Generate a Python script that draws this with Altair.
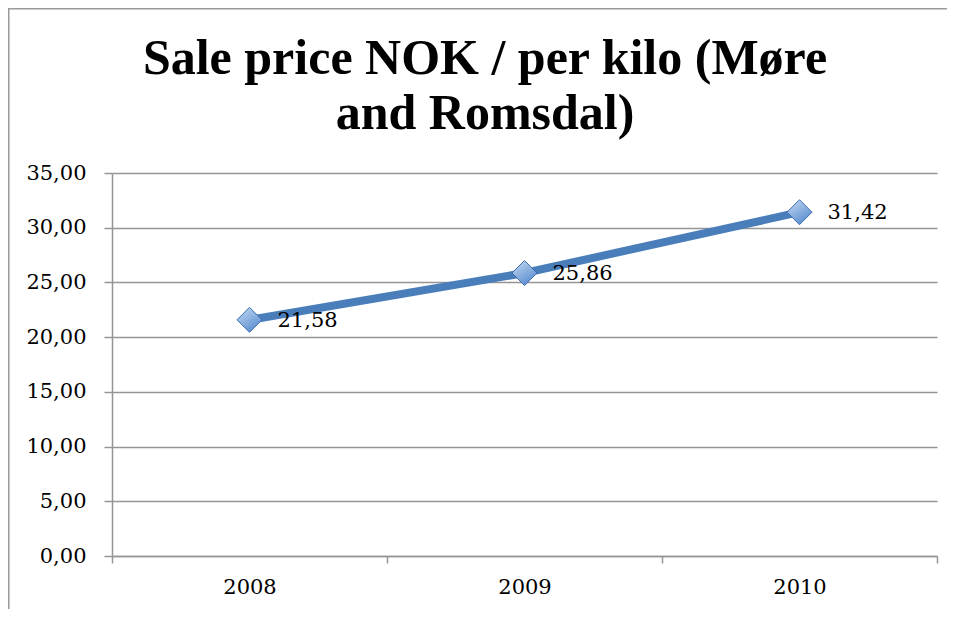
import altair as alt
import pandas as pd

years = ["2008", "2009", "2010"]
prices = [21.58, 25.86, 31.42]
y_ticks = [0, 5, 10, 15, 20, 25, 30, 35]
title_lines = ["Sale price NOK / per kilo (Møre", "and Romsdal)"]

df = pd.DataFrame({"year": years, "price": prices})

LINE_BLUE = "#4a7ebb"
GRID = "#959595"
LABEL_FONT = "DejaVu Serif"

x_enc = alt.X(
    "year:N",
    scale=alt.Scale(type="band", paddingInner=0, paddingOuter=0),
    bandPosition=0.5,
    axis=alt.Axis(
        title=None, tickBand="extent", grid=False, tickSize=7, tickColor=GRID,
        tickWidth=1.5, domainWidth=1.5,
        domainColor=GRID, labelFont=LABEL_FONT, labelFontSize=21, labelColor="black",
        labelPadding=13, labelAngle=0,
    ),
)
y_enc = alt.Y(
    "price:Q",
    scale=alt.Scale(domain=[0, 35], nice=False),
    axis=alt.Axis(
        title=None, values=y_ticks, grid=True, gridColor=GRID, gridWidth=1.5,
        tickColor=GRID, tickWidth=1.5, domainWidth=1.5,
        tickSize=8, domainColor=GRID, labelFont=LABEL_FONT, labelFontSize=21,
        labelColor="black", labelPadding=18,
        labelExpr="replace(format(datum.value, '.2f'), '.', ',')",
    ),
)

base = alt.Chart(df).encode(x=x_enc, y=y_enc)

line = base.mark_line(color=LINE_BLUE, strokeWidth=8)
points = base.mark_point(
    shape="diamond", size=625, filled=True, opacity=1,
    fill=alt.Gradient(
        gradient="linear",
        stops=[alt.GradientStop(color="#c9dcf3", offset=0),
               alt.GradientStop(color="#5b8ed0", offset=1)],
        x1=0, x2=0.6, y1=0, y2=1,
    ),
    stroke="#3d6fae", strokeWidth=1,
)
labels = base.mark_text(
    align="left", baseline="middle", dx=28, dy=1, font=LABEL_FONT, fontSize=21, color="black"
).transform_calculate(
    lbl="replace(format(datum.price, '.2f'), '.', ',')"
).encode(text="lbl:N")

frame_df = pd.DataFrame({"k": [0]})
left_border = alt.Chart(frame_df).mark_rule(color="#9a9a9a", strokeWidth=1.5).encode(
    x=alt.value(-103.25), y=alt.value(-165), y2=alt.value(436)
)
top_border = alt.Chart(frame_df).mark_rule(color="#9a9a9a", strokeWidth=1.5).encode(
    x=alt.value(-104), x2=alt.value(835), y=alt.value(-164.25)
)

title_df = pd.DataFrame({"t": ["\n".join(title_lines)]})
title_mark = alt.Chart(title_df).mark_text(
    font="Liberation Serif", fontSize=50, fontWeight="bold", color="black",
    align="center", baseline="alphabetic", lineBreak="\n", lineHeight=55,
).encode(text="t:N", x=alt.value(373), y=alt.value(-99))

chart = alt.layer(left_border, top_border, title_mark, line, points, labels).properties(
    width=825,
    height=383,
    autosize=alt.AutoSizeParams(type="none"),
    padding={"left": 104, "top": 165, "right": 10, "bottom": 53},
    background="white",
).configure_view(stroke=None)

chart.save("out.html", embed_options={"renderer": "svg", "actions": False})
